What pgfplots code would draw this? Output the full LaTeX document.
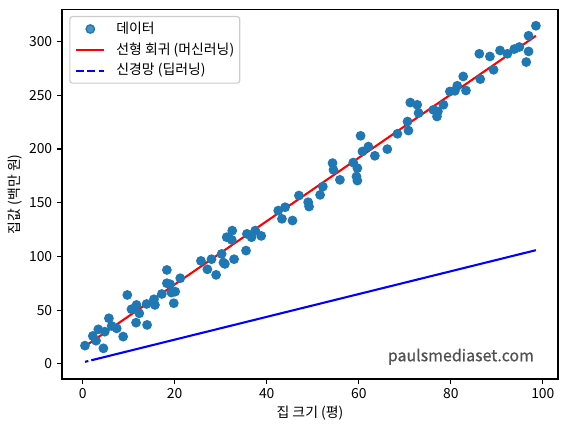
\documentclass[border=0pt]{standalone}
\usepackage{fontspec}
\setmainfont{Noto Sans CJK KR}
\newfontfamily\wmfont[FakeBold=0.6]{Noto Sans CJK KR}
\usepackage{pgfplots}
\pgfplotsset{compat=1.18}
\definecolor{c0}{HTML}{1F77B4}
\definecolor{legendedge}{gray}{0.8}
\definecolor{wm}{HTML}{505050}
\pgfplotstableread{
x y
0.5 16.9
2.2 25.9
2.9 21.5
3.4 32.1
4.5 14.4
4.8 29.9
5.7 42.4
6.3 35.2
7.4 33.0
8.8 25.3
9.7 64.1
10.6 50.8
11.6 38.3
11.7 54.8
12.3 47.0
13.9 55.7
14.0 36.2
15.5 60.1
15.7 54.8
17.2 65.0
18.3 87.4
18.3 75.0
19.0 74.1
19.3 66.3
19.8 56.4
20.1 67.2
21.2 79.7
25.7 95.8
27.1 88.0
28.0 97.4
29.0 82.8
30.2 102.3
30.6 94.2
30.9 93.0
31.3 117.9
32.5 124.0
32.4 115.4
32.9 97.4
35.7 121.0
35.5 105.4
36.7 117.9
37.5 124.0
38.8 119.1
42.5 142.7
43.3 135.0
44.0 145.8
45.6 133.4
47.0 156.7
49.0 150.5
49.2 146.4
51.6 157.3
52.2 165.0
54.3 186.9
54.5 180.6
55.9 171.3
58.8 187.4
59.7 182.2
59.5 174.4
59.7 170.6
60.4 212.3
60.8 197.7
62.1 202.3
63.5 193.7
66.2 199.9
68.4 214.2
70.6 225.6
70.8 217.2
71.2 243.3
72.7 241.2
73.0 233.5
76.2 236.5
77.0 230.3
77.2 235.0
78.4 241.2
79.8 253.6
80.9 254.2
81.4 258.9
82.7 267.6
83.3 254.5
86.4 265.1
86.2 288.7
88.5 286.2
89.3 273.8
90.7 291.8
92.3 288.7
93.8 293.1
94.9 295.0
96.9 290.9
96.4 281.0
96.9 305.5
98.5 314.8
}\datatable
\begin{document}
\fontsize{10}{12}\selectfont
\begin{tikzpicture}
\path[use as bounding box] (-44.6pt,-37.4pt) rectangle (364.2pt,272.8pt);
\begin{axis}[
  at={(0,0)}, anchor=south west,
  scale only axis, width=357pt, height=266pt,
  xmin=-4.5, xmax=103.3, ymin=-14.2, ymax=330,
  xtick={0,20,...,100}, ytick={0,50,...,300},
  tick align=outside, xtick pos=bottom, ytick pos=left,
  major tick length=3.5pt,
  tick style={black, line width=0.8pt},
  axis line style={line width=0.8pt},
  /pgf/number format/assume math mode=true,
  ticklabel style={font=\fontsize{10}{12}\selectfont},
  xlabel={집 크기 (평)},
  ylabel={집값 (백만 원)},
  x label style={at={(axis description cs:0.5,-0.0714)}, anchor=north, inner sep=0pt},
  y label style={at={(axis description cs:-0.0793,0.5)}, anchor=south, inner sep=0pt},
  label style={font=\fontsize{10}{12}\selectfont},
  legend cell align=left,
  legend image code/.code={\draw[mark repeat=2,mark phase=2,#1] plot coordinates {(0pt,0pt) (10pt,0pt) (20pt,0pt)}; \path (0pt,0pt) (28pt,0pt);},
  legend style={at={(axis description cs:0.0147,0.9824)}, anchor=north west,
    draw=legendedge, line width=0.8pt, rounded corners=2pt, fill=white, fill opacity=0.8, text opacity=1,
    font=\fontsize{10}{12}\selectfont, inner xsep=4pt, inner ysep=4pt, row sep=5pt, column sep=0pt,
    nodes={inner sep=0pt, anchor=west, text height=8pt, text depth=2pt}},
]
\addplot[only marks, mark=*, mark size=3pt, mark options={draw=c0, fill=c0, line width=1pt}] table[x=x,y=y] {\datatable};
\addlegendentry{데이터}
\addplot[red, line width=1.5pt] coordinates {(0.5,16.3) (98.5,305.4)};
\addlegendentry{선형 회귀 (머신러닝)}
\addplot[blue, line width=1.5pt, dash pattern=on 2.5pt off 2.2pt on 1000pt, forget plot] coordinates {(0.5,1.8) (98.5,105.8)};
\addlegendimage{blue, line width=1.5pt, dash pattern=on 5.55pt off 2.4pt}
\addlegendentry{신경망 (딥러닝)}
\node[anchor=east, inner sep=0pt, text=wm, font=\fontsize{11.5}{13}\selectfont\wmfont] at (axis description cs:0.952,0.0603) {paulsmediaset.com};
\end{axis}
\end{tikzpicture}
\end{document}
